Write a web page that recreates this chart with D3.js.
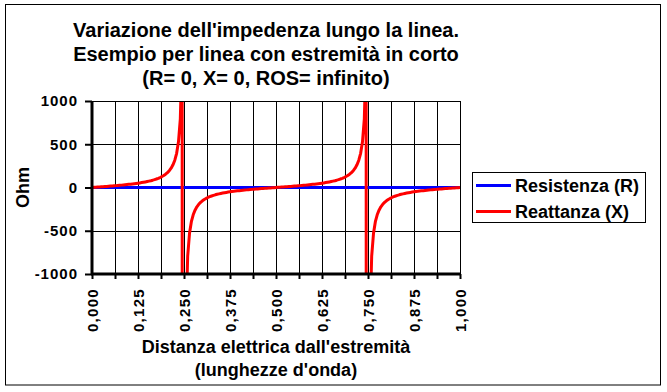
<!DOCTYPE html>
<html><head><meta charset="utf-8">
<script src="https://cdn.jsdelivr.net/npm/d3@7"></script>
<style>
html,body{margin:0;padding:0;background:#fff;}
svg{display:block;font-family:"Liberation Sans",Arial,sans-serif;font-weight:bold;}
</style></head>
<body>
<svg id="c" width="667" height="392"></svg>
<script>
// ---- data ----
const titleLines = ["Variazione dell'impedenza lungo la linea.", "Esempio per linea con estremità in corto", "(R= 0, X= 0, ROS= infinito)"];
const xTitleLines = ["Distanza elettrica dall'estremità", "(lunghezze d'onda)"];
const yTitle = "Ohm";
const seriesNames = ["Resistenza (R)", "Reattanza (X)"];
const seriesColors = ["#0000ff", "#ff0000"];
const xTickValues = [0, 0.0625, 0.125, 0.1875, 0.25, 0.3125, 0.375, 0.4375, 0.5, 0.5625, 0.625, 0.6875, 0.75, 0.8125, 0.875, 0.9375, 1];
const xTickLabels = ["0,000", "", "0,125", "", "0,250", "", "0,375", "", "0,500", "", "0,625", "", "0,750", "", "0,875", "", "1,000"];
const yTickValues = [-1000, -500, 0, 500, 1000];
const yTickLabels = ["-1000", "-500", "0", "500", "1000"];

// distance along the line (wavelengths), step 0.005
const distanza = [
0,0.005,0.01,0.015,0.02,0.025,0.03,0.035,0.04,0.045,0.05,0.055,0.06,0.065,0.07,0.075,0.08,0.085,0.09,0.095,
0.1,0.105,0.11,0.115,0.12,0.125,0.13,0.135,0.14,0.145,0.15,0.155,0.16,0.165,0.17,0.175,0.18,0.185,0.19,0.195,
0.2,0.205,0.21,0.215,0.22,0.225,0.23,0.235,0.24,0.245,0.25,0.255,0.26,0.265,0.27,0.275,0.28,0.285,0.29,0.295,
0.3,0.305,0.31,0.315,0.32,0.325,0.33,0.335,0.34,0.345,0.35,0.355,0.36,0.365,0.37,0.375,0.38,0.385,0.39,0.395,
0.4,0.405,0.41,0.415,0.42,0.425,0.43,0.435,0.44,0.445,0.45,0.455,0.46,0.465,0.47,0.475,0.48,0.485,0.49,0.495,
0.5,0.505,0.51,0.515,0.52,0.525,0.53,0.535,0.54,0.545,0.55,0.555,0.56,0.565,0.57,0.575,0.58,0.585,0.59,0.595,
0.6,0.605,0.61,0.615,0.62,0.625,0.63,0.635,0.64,0.645,0.65,0.655,0.66,0.665,0.67,0.675,0.68,0.685,0.69,0.695,
0.7,0.705,0.71,0.715,0.72,0.725,0.73,0.735,0.74,0.745,0.75,0.755,0.76,0.765,0.77,0.775,0.78,0.785,0.79,0.795,
0.8,0.805,0.81,0.815,0.82,0.825,0.83,0.835,0.84,0.845,0.85,0.855,0.86,0.865,0.87,0.875,0.88,0.885,0.89,0.895,
0.9,0.905,0.91,0.915,0.92,0.925,0.93,0.935,0.94,0.945,0.95,0.955,0.96,0.965,0.97,0.975,0.98,0.985,0.99,0.995,
1];

const resistenza = [
0,0,0,0,0,0,0,0,0,0,0,0,0,0,0,0,0,0,0,0,
0,0,0,0,0,0,0,0,0,0,0,0,0,0,0,0,0,0,0,0,
0,0,0,0,0,0,0,0,0,0,0,0,0,0,0,0,0,0,0,0,
0,0,0,0,0,0,0,0,0,0,0,0,0,0,0,0,0,0,0,0,
0,0,0,0,0,0,0,0,0,0,0,0,0,0,0,0,0,0,0,0,
0,0,0,0,0,0,0,0,0,0,0,0,0,0,0,0,0,0,0,0,
0,0,0,0,0,0,0,0,0,0,0,0,0,0,0,0,0,0,0,0,
0,0,0,0,0,0,0,0,0,0,0,0,0,0,0,0,0,0,0,0,
0,0,0,0,0,0,0,0,0,0,0,0,0,0,0,0,0,0,0,0,
0,0,0,0,0,0,0,0,0,0,0,0,0,0,0,0,0,0,0,0,
0];

const reattanza = [
0,1.57,3.15,4.73,6.32,7.92,9.54,11.18,12.84,14.53,16.25,18.00,19.80,21.64,23.53,25.48,27.49,29.57,31.73,33.98,
36.33,38.78,41.36,44.08,46.95,50,53.24,56.71,60.44,64.46,68.82,73.57,78.79,84.55,90.95,98.13,106.26,115.54,126.29,138.88,
153.88,172.10,194.74,223.69,262.11,315.69,395.79,528.94,794.73,1591.03,-100000,-1591.03,-794.73,-528.94,-395.79,-315.69,-262.11,-223.69,-194.74,-172.10,
-153.88,-138.88,-126.29,-115.54,-106.26,-98.13,-90.95,-84.55,-78.79,-73.57,-68.82,-64.46,-60.44,-56.71,-53.24,-50,-46.95,-44.08,-41.36,-38.78,
-36.33,-33.98,-31.73,-29.57,-27.49,-25.48,-23.53,-21.64,-19.80,-18.00,-16.25,-14.53,-12.84,-11.18,-9.54,-7.92,-6.32,-4.73,-3.15,-1.57,
0,1.57,3.15,4.73,6.32,7.92,9.54,11.18,12.84,14.53,16.25,18.00,19.80,21.64,23.53,25.48,27.49,29.57,31.73,33.98,
36.33,38.78,41.36,44.08,46.95,50,53.24,56.71,60.44,64.46,68.82,73.57,78.79,84.55,90.95,98.13,106.26,115.54,126.29,138.88,
153.88,172.10,194.74,223.69,262.11,315.69,395.79,528.94,794.73,1591.03,-100000,-1591.03,-794.73,-528.94,-395.79,-315.69,-262.11,-223.69,-194.74,-172.10,
-153.88,-138.88,-126.29,-115.54,-106.26,-98.13,-90.95,-84.55,-78.79,-73.57,-68.82,-64.46,-60.44,-56.71,-53.24,-50,-46.95,-44.08,-41.36,-38.78,
-36.33,-33.98,-31.73,-29.57,-27.49,-25.48,-23.53,-21.64,-19.80,-18.00,-16.25,-14.53,-12.84,-11.18,-9.54,-7.92,-6.32,-4.73,-3.15,-1.57,
0];

// ---- chart ----
const svg = d3.select("#c");
const L = 92, R = 460, T = 101, B = 274;
const x = d3.scaleLinear().domain([0, 1]).range([L, R]);
const y = d3.scaleLinear().domain([-1000, 1000]).range([B, T]);
const FONT = "Liberation Sans, Arial, sans-serif";

// outer border
svg.append("rect").attr("x", 5.5).attr("y", 4.5).attr("width", 655).attr("height", 380.5)
  .attr("fill", "#fff").attr("stroke", "#000").attr("stroke-width", 1);

// title
const titleX = 266;
const title = svg.append("text").attr("text-anchor", "middle")
  .attr("font-size", 20).attr("fill", "#000");
titleLines.forEach((t, i) => title.append("tspan").attr("x", titleX).attr("y", 37 + i * 24).text(t));

// gridlines
const grid = svg.append("g").attr("shape-rendering", "crispEdges").attr("stroke", "#000").attr("stroke-width", 1);
grid.selectAll("line.v").data(xTickValues.slice(1)).join("line").attr("class", "v")
  .attr("x1", d => Math.round(x(d)) + 0.5).attr("x2", d => Math.round(x(d)) + 0.5).attr("y1", T).attr("y2", B);
grid.selectAll("line.h").data(yTickValues.slice(1)).join("line").attr("class", "h")
  .attr("y1", d => Math.round(y(d)) + 0.5).attr("y2", d => Math.round(y(d)) + 0.5).attr("x1", L).attr("x2", R);

// clip for series
svg.append("clipPath").attr("id", "plotclip").append("rect")
  .attr("x", L).attr("y", T).attr("width", R - L).attr("height", B - T);

const line = (vals) => d3.line().x((d, i) => x(distanza[i])).y(d => y(d))(vals);
const series = svg.append("g").attr("clip-path", "url(#plotclip)");
[resistenza, reattanza].forEach((vals, k) => {
  series.append("path").attr("d", line(vals)).attr("fill", "none")
    .attr("stroke", seriesColors[k]).attr("stroke-width", 3).attr("stroke-linejoin", "round");
});

// x axis
const xAxis = d3.axisBottom(x).tickValues(xTickValues).tickSize(5).tickPadding(0)
  .tickFormat((d, i) => xTickLabels[i]);
const gx = svg.append("g").attr("transform", `translate(0,${B})`).call(xAxis);
gx.select(".domain").attr("stroke-width", 3).attr("d", `M${L - 1},0H${R + 1}`);
gx.selectAll(".tick line").attr("stroke-width", 2);
gx.selectAll(".tick text").attr("font-size", 15).attr("font-weight", "bold").attr("font-family", FONT)
  .attr("letter-spacing", "1.3px")
  .attr("transform", "rotate(-90)").attr("text-anchor", "end").attr("x", -14).attr("y", 0).attr("dy", "0.36em").attr("fill", "#000");

// y axis
const yAxis = d3.axisLeft(y).tickValues(yTickValues).tickSize(7).tickPadding(7)
  .tickFormat((d, i) => yTickLabels[i]);
const gy = svg.append("g").attr("transform", `translate(${L},0)`).call(yAxis);
gy.select(".domain").attr("stroke-width", 3).attr("d", `M0,${T}V${B + 1}`);
gy.selectAll(".tick line").attr("stroke-width", 2);
gy.selectAll(".tick text").attr("font-size", 15).attr("font-weight", "bold").attr("font-family", FONT)
  .attr("letter-spacing", "1px").attr("fill", "#000");

// plot top/right border
svg.append("path").attr("d", `M${L},${T + 0.5}H${R + 0.5}V${B}`).attr("fill", "none").attr("stroke", "#000").attr("stroke-width", 1);

// axis titles
const xt = svg.append("text").attr("text-anchor", "middle").attr("font-size", 18).attr("fill", "#000");
xTitleLines.forEach((t, i) => xt.append("tspan").attr("x", (L + R) / 2).attr("y", 353 + i * 23).text(t));
svg.append("text").attr("transform", `translate(29,${(T + B) / 2}) rotate(-90)`).attr("text-anchor", "middle")
  .attr("font-size", 18).attr("fill", "#000").text(yTitle);

// legend
const lg = svg.append("g");
lg.append("rect").attr("x", 472.5).attr("y", 172.5).attr("width", 173).attr("height", 50)
  .attr("fill", "#fff").attr("stroke", "#000").attr("stroke-width", 1);
seriesNames.forEach((n, i) => {
  const cy = 185.5 + i * 26;
  lg.append("line").attr("x1", 476).attr("x2", 511).attr("y1", cy).attr("y2", cy)
    .attr("stroke", seriesColors[i]).attr("stroke-width", 3);
  lg.append("text").attr("x", 515).attr("y", cy).attr("dy", "0.36em").attr("font-size", 18).attr("fill", "#000").text(n);
});
</script>
</body></html>
